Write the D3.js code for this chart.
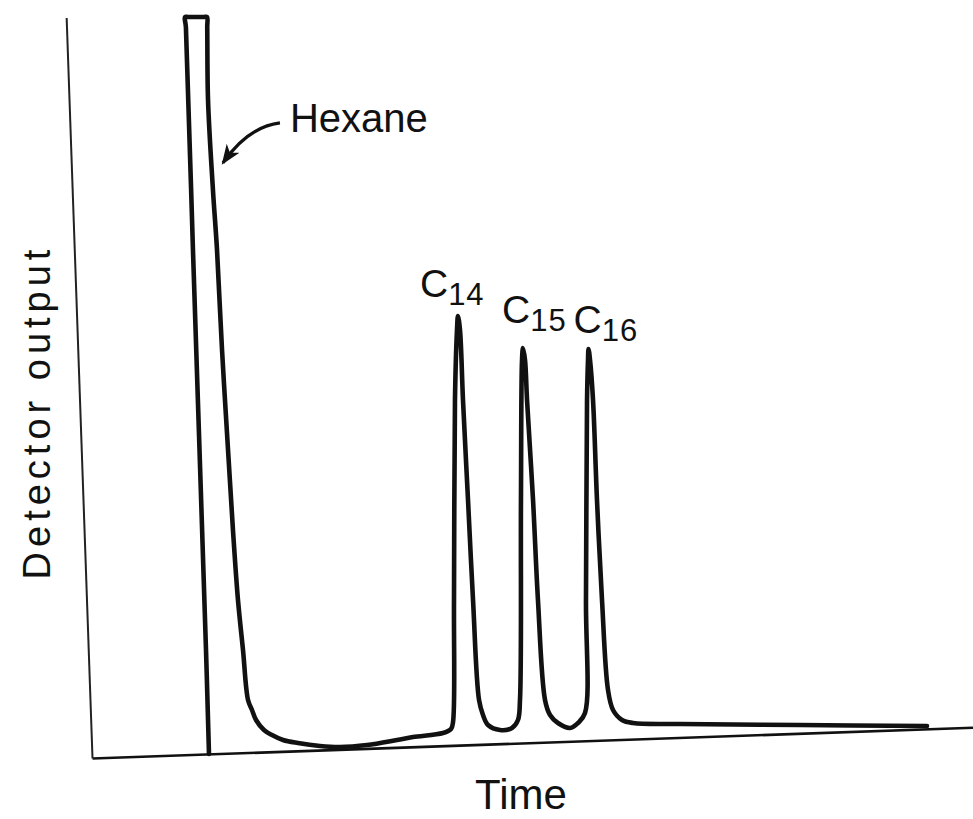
<!DOCTYPE html>
<html>
<head>
<meta charset="utf-8">
<script src="https://cdn.jsdelivr.net/npm/d3@7"></script>
<style>
  body { margin: 0; background: #fff; }
  svg { display: block; font-family: "Liberation Sans", Arial, sans-serif; }
</style>
</head>
<body>
<div id="chart"></div>
<script>
// Gas chromatogram, values (arbitrary units 0-100)
var traceTime = [13.28, 12.94, 11.46, 10.66, 10.56, 10.90, 12.70, 13.05, 13.08, 13.17, 13.73, 14.19, 14.76, 15.44, 16.00, 16.57, 17.14,
  17.71, 18.16, 18.62, 19.52, 20.43, 21.68, 23.38, 25.88, 28.15, 31.21, 34.62, 36.44, 39.84, 40.75,
  40.98, 41.09, 41.20, 41.43, 41.54, 41.77, 42.11, 42.68, 43.25, 43.93, 44.38, 44.95, 46.31, 47.67, 48.35,
  48.58, 48.69, 48.81, 48.92, 49.15, 49.38, 50.06, 50.62, 51.42, 51.99, 52.89, 54.26, 55.16, 55.96,
  56.07, 56.19, 56.30, 56.36, 56.53, 56.87, 57.32, 57.89, 58.57, 59.14, 60.16, 61.41, 66.74, 80.36, 94.78];
var traceOutput = [0.54, 14.57, 68.56, 98.6, 100, 100, 100, 100, 98.6, 88.80, 76.65, 68.56, 55.06, 41.57, 30.77, 21.32, 14.57,
  7.83, 6.48, 5.13, 3.78, 3.10, 2.43, 2.02, 1.62, 1.48, 1.75, 2.43, 2.83, 3.37, 3.91,
  4.86, 21.32, 48.31, 57.76, 59.65, 57.76, 48.31, 34.82, 21.32, 7.83, 5.80, 4.45, 3.78, 4.05, 5.13,
  7.83, 34.82, 53.71, 55.33, 53.71, 48.31, 34.82, 21.32, 7.83, 5.80, 4.72, 4.05, 4.72, 6.07,
  21.32, 48.31, 53.71, 55.20, 53.71, 48.31, 34.82, 21.32, 9.18, 6.48, 5.13, 4.72, 4.59, 4.45, 4.32];

var peakSubs = ["14", "15", "16"];
var peakTime = [41.54, 48.92, 56.36];
var peakOutput = [59.65, 55.33, 55.20];

var hexaneLabel = "Hexane";
var xTitle = "Time";
var yTitle = "Detector output";

var svgWidth = 973;
var svgHeight = 819;
var margin = { top: 17, right: 0, bottom: 61, left: 92 };

var svg = d3.select("#chart").append("svg")
  .attr("width", svgWidth)
  .attr("height", svgHeight);

var x = d3.scaleLinear().domain([0, 100]).range([0, 881]);
var y = d3.scaleLinear().domain([0, 100]).range([0, -741]);

var originY = svgHeight - margin.bottom;

// axes (the scan is tilted by about 2 degrees)
var axesGroup = svg.append("g")
  .attr("transform", `translate(${margin.left}, ${originY}) rotate(-2)`);

axesGroup.append("g")
  .call(d3.axisBottom(x).tickValues([]).tickSizeOuter(0))
  .select(".domain")
  .attr("stroke", "#111")
  .attr("stroke-width", 2.6);

axesGroup.append("g")
  .call(d3.axisLeft(y).tickValues([]).tickSizeOuter(0))
  .select(".domain")
  .attr("stroke", "#222")
  .attr("stroke-width", 2);

var chartGroup = svg.append("g")
  .attr("transform", `translate(${margin.left}, ${originY})`);

var traceData = traceTime.map((t, i) => [t, traceOutput[i]]);

var line = d3.line()
  .x(d => x(d[0]))
  .y(d => y(d[1]))
  .curve(d3.curveCatmullRom.alpha(0.5));

chartGroup.append("path")
  .datum(traceData)
  .attr("fill", "none")
  .attr("stroke", "#111")
  .attr("stroke-width", 4.6)
  .attr("stroke-linejoin", "round")
  .attr("stroke-linecap", "round")
  .attr("d", line);

// peak labels
var labelOffsets = [[-38, -19], [-21, -25], [-15, -16]];
peakSubs.forEach(function(sub, i) {
  var t = chartGroup.append("text")
    .attr("x", x(peakTime[i]) + labelOffsets[i][0])
    .attr("y", y(peakOutput[i]) + labelOffsets[i][1])
    .attr("font-size", 39)
    .attr("fill", "#111");
  t.append("tspan").text("C");
  t.append("tspan")
    .attr("font-size", 31)
    .attr("letter-spacing", 1)
    .attr("dy", 8)
    .text(sub);
});

// hexane label with arrow
svg.append("defs").append("marker")
  .attr("id", "head")
  .attr("markerUnits", "userSpaceOnUse")
  .attr("markerWidth", 20)
  .attr("markerHeight", 20)
  .attr("viewBox", "0 -8 18 16")
  .attr("refX", 16)
  .attr("refY", 0)
  .attr("orient", "auto")
  .append("path")
  .attr("d", "M0,-7L18,0L0,7L5,0Z")
  .attr("fill", "#111");

var hx = x(22.47), hy = y(84.5);
chartGroup.append("text")
  .attr("x", hx)
  .attr("y", hy)
  .attr("font-size", 40)
  .attr("fill", "#111")
  .text(hexaneLabel);

chartGroup.append("path")
  .attr("d", `M${hx - 10},${hy - 9} Q${hx - 42},${hy - 5} ${hx - 67},${hy + 31}`)
  .attr("fill", "none")
  .attr("stroke", "#111")
  .attr("stroke-width", 3.2)
  .attr("marker-end", "url(#head)");

// axis titles
svg.append("text")
  .attr("x", 521)
  .attr("y", 809)
  .attr("text-anchor", "middle")
  .attr("font-size", 42)
  .attr("fill", "#111")
  .text(xTitle);

svg.append("text")
  .attr("transform", "translate(50, 412) rotate(-90)")
  .attr("text-anchor", "middle")
  .attr("font-size", 38)
  .attr("letter-spacing", 5)
  .attr("fill", "#111")
  .text(yTitle);
</script>
</body>
</html>
